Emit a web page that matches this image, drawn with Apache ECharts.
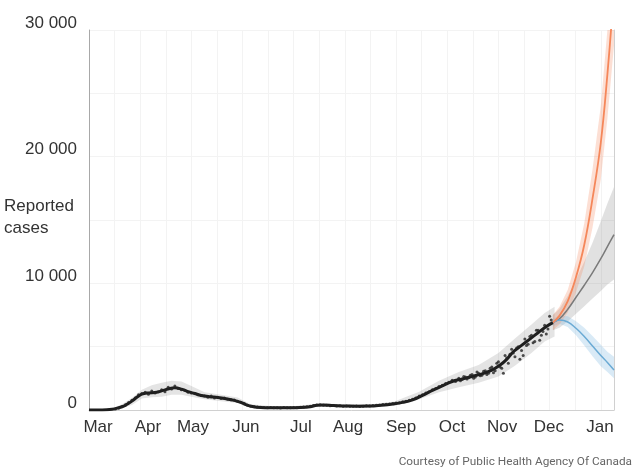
<!DOCTYPE html>
<html>
<head>
<meta charset="utf-8">
<script src="https://cdn.jsdelivr.net/npm/echarts@6/dist/echarts.min.js"></script>
<style>
html, body { margin: 0; padding: 0; background: #fff; }
#chart { width: 640px; height: 473px; }
</style>
</head>
<body>
<div id="chart"></div>
<script>
'use strict';

// x values are days since 1 March 2020
const monthLabels = ['Mar', 'Apr', 'May', 'Jun', 'Jul', 'Aug', 'Sep', 'Oct', 'Nov', 'Dec', 'Jan'];
const monthLabelDays = [5.5, 35.7, 63, 95, 128.4, 156.9, 189, 219.9, 250.2, 278.6, 309.5];

const yTickValues = [0, 10000, 20000, 30000];
const yTickLabels = ['0', '10 000', '20 000', '30 000'];

// fitted curve through reported cases
const fitDays = [0, 8, 14, 18, 21, 23, 26, 29, 32, 36, 41, 45, 49, 52, 56, 60, 64, 68, 73, 78, 83, 88, 92, 95, 99, 104, 112, 120, 128, 134, 138, 142, 148, 155, 162, 170, 177, 184, 190, 196, 202, 208, 214, 220, 226, 232, 238, 244, 249, 253, 257, 262, 267, 272, 277, 281];
const fitCases = [0, 0, 60, 180, 300, 450, 700, 1000, 1250, 1350, 1400, 1550, 1700, 1750, 1650, 1450, 1300, 1150, 1050, 990, 890, 760, 600, 430, 280, 200, 180, 170, 190, 260, 380, 400, 350, 320, 300, 310, 380, 480, 600, 800, 1150, 1550, 1900, 2250, 2450, 2650, 2850, 3150, 3550, 4000, 4600, 5100, 5600, 6100, 6600, 6900];

// uncertainty band around the fit
const bandDays = [0, 14, 20, 26, 32, 38, 44, 50, 56, 62, 70, 80, 90, 98, 110, 125, 140, 155, 170, 185, 200, 212, 224, 236, 248, 258, 268, 276, 282];
const bandLow = [0, 0, 150, 400, 900, 1000, 1050, 1200, 1200, 1050, 850, 700, 550, 150, 80, 80, 280, 220, 200, 330, 850, 1400, 1800, 2150, 2650, 3500, 4500, 5400, 5800];
const bandHigh = [0, 120, 450, 950, 1600, 1950, 2150, 2300, 2250, 1900, 1400, 1200, 980, 450, 320, 320, 520, 460, 440, 680, 1450, 2300, 3000, 3550, 4500, 5650, 6750, 7650, 8150];

// daily reported cases [day, cases]
const dailyCases = [
    [16, 80], [18, 150], [20, 260], [22, 420], [24, 600], [26, 760], [28, 950], [30, 1200], [32, 1300], [34, 1400],
    [36, 1250], [38, 1500], [40, 1350], [42, 1450], [44, 1600], [46, 1450], [48, 1800], [50, 1650], [52, 1900], [54, 1700],
    [56, 1600], [58, 1550], [60, 1400], [62, 1350], [64, 1300], [66, 1200], [68, 1150], [70, 1100], [72, 1000], [74, 1100],
    [76, 950], [78, 1000], [80, 900], [82, 950], [84, 850], [86, 800], [88, 780], [90, 700], [92, 620], [94, 500],
    [96, 380], [98, 300], [100, 260], [102, 230], [104, 220], [106, 200], [108, 180], [110, 190], [112, 170], [114, 180],
    [116, 160], [118, 190], [120, 170], [122, 180], [124, 200], [126, 180], [128, 210], [130, 230], [132, 250], [134, 300],
    [136, 350], [138, 400], [140, 420], [142, 380], [144, 370], [146, 340], [148, 350], [150, 320], [152, 330], [154, 300],
    [156, 320], [158, 290], [160, 300], [162, 310], [164, 280], [166, 300], [168, 330], [170, 310], [172, 350], [174, 380],
    [176, 400], [178, 430], [180, 450], [182, 470], [184, 520], [186, 550], [188, 580], [190, 650], [192, 700], [194, 760],
    [196, 850], [198, 950], [200, 1100], [202, 1200], [204, 1350], [206, 1450], [208, 1600], [210, 1700], [212, 1850], [214, 1950],
    [216, 2100], [218, 2200], [220, 2350], [222, 2250], [224, 2500], [225, 2300], [226, 2400], [227, 2650], [228, 2600], [229, 2450],
    [230, 2550], [231, 2750], [232, 2800], [233, 2500], [234, 2600], [235, 3000], [236, 2900], [237, 2700], [238, 2750], [239, 3050],
    [240, 3100], [241, 2800], [242, 2900], [243, 3300], [244, 3400], [245, 2950], [246, 3100], [247, 3700], [248, 3800], [249, 3400],
    [250, 3300], [251, 2900], [252, 4300], [253, 4100], [254, 3700], [255, 4400], [256, 4800], [257, 4500], [258, 4200], [259, 4900],
    [260, 5000], [261, 4000], [262, 4700], [263, 4300], [264, 5600], [265, 5100], [266, 5200], [267, 5800], [268, 5900], [269, 5300],
    [270, 5400], [271, 6300], [272, 6300], [273, 5500], [274, 5900], [275, 6200], [276, 6700], [277, 6000], [278, 6400], [279, 7400],
    [280, 7100]
];

// projections
const projDays = [281, 285, 290, 295, 300, 305, 310, 314, 318];
const highCases = [6900, 7450, 8600, 10500, 13050, 16700, 21100, 26500, 33000];
const highLow = [6300, 6750, 7700, 9300, 11350, 14400, 18200, 23000, 28800];
const highHigh = [7500, 8150, 9500, 11700, 14750, 19000, 24000, 30000, 37200];
const midCases = [6900, 7200, 7950, 8900, 9850, 10850, 11950, 12900, 13850];
const midLow = [6300, 6500, 7000, 7600, 8200, 8800, 9400, 9900, 10300];
const midHigh = [7500, 8000, 9000, 10300, 11700, 13200, 14900, 16300, 17600];
const lowCases = [6900, 7100, 6950, 6450, 5800, 5050, 4300, 3750, 3150];
const lowLow = [6600, 6800, 6550, 5900, 5100, 4250, 3450, 3000, 2500];
const lowHigh = [7200, 7450, 7400, 7000, 6500, 5850, 5150, 4600, 4200];

const pairs = (xs, ys) => xs.map((x, i) => [x, ys[i]]);

// shaded band drawn as one polygon through the axis scales
function bandSeries(days, lo, hi, color, z) {
    return {
        type: 'custom',
        silent: true,
        clip: true,
        z: z,
        data: [[days[0], lo[0]]],
        renderItem: function (params, api) {
            const pts = [];
            for (let i = 0; i < days.length; i++) pts.push(api.coord([days[i], hi[i]]));
            for (let i = days.length - 1; i >= 0; i--) pts.push(api.coord([days[i], lo[i]]));
            return {
                type: 'polygon',
                shape: { points: pts },
                style: { fill: color }
            };
        }
    };
}

function lineSeries(data, color, width, z) {
    return {
        type: 'line',
        data: data,
        smooth: 0.4,
        showSymbol: false,
        silent: true,
        clip: true,
        z: z,
        lineStyle: { color: color, width: width }
    };
}

const myChart = echarts.init(document.getElementById('chart'));

const option = {
    animation: false,
    backgroundColor: '#ffffff',
    grid: { left: 89, right: 26, top: 30, bottom: 63 },
    xAxis: {
        type: 'value',
        min: 0,
        max: 318,
        interval: 15.5,
        axisLine: { show: true, lineStyle: { color: '#d0d0d0', width: 1 } },
        axisTick: { show: false },
        splitLine: { show: true, lineStyle: { color: '#f3f3f3', width: 1 } },
        axisLabel: {
            customValues: monthLabelDays,
            formatter: v => monthLabels[monthLabelDays.indexOf(v)] || '',
            margin: 9,
            fontSize: 17,
            color: '#333',
            fontFamily: 'Liberation Sans'
        }
    },
    yAxis: [
        {
            type: 'value',
            min: 0,
            max: 30000,
            interval: 5000,
            axisLine: { show: true, lineStyle: { color: '#a8a8a8', width: 1 } },
            axisTick: { show: false },
            splitLine: { show: true, lineStyle: { color: '#f3f3f3', width: 1 } },
            axisLabel: {
                customValues: yTickValues,
                formatter: v => yTickLabels[yTickValues.indexOf(v)] || '',
                margin: 12,
                fontSize: 17,
                color: '#333',
                fontFamily: 'Liberation Sans',
                verticalAlign: 'bottom',
                lineHeight: 14
            }
        },
        {
            type: 'value',
            position: 'right',
            min: 0,
            max: 30000,
            axisLine: { show: true, lineStyle: { color: '#d0d0d0', width: 1 } },
            axisTick: { show: false },
            axisLabel: { show: false },
            splitLine: { show: false }
        }
    ],
    graphic: [
        {
            type: 'text',
            x: 4,
            y: 217,
            style: {
                text: 'Reported\ncases',
                align: 'left',
                verticalAlign: 'middle',
                fontSize: 17,
                lineHeight: 22,
                fontFamily: 'Liberation Sans',
                fill: '#333'
            }
        },
        {
            type: 'text',
            right: 8,
            y: 456,
            style: {
                text: 'Courtesy of Public Health Agency Of Canada',
                fontSize: 11.8,
                fontFamily: 'Roboto',
                fill: '#666'
            }
        }
    ],
    series: [
        bandSeries(bandDays, bandLow, bandHigh, 'rgba(120,120,120,0.2)', 1),
        bandSeries(projDays, midLow, midHigh, 'rgba(120,120,120,0.22)', 1),
        bandSeries(projDays, lowLow, lowHigh, 'rgba(130,185,225,0.3)', 1),
        bandSeries(projDays, highLow, highHigh, 'rgba(245,140,100,0.28)', 1),
        lineSeries(pairs(projDays, midCases), '#7a7a7a', 1.5, 3),
        lineSeries(pairs(projDays, lowCases), '#6aaad4', 1.5, 3),
        lineSeries(pairs(projDays, highCases), '#f5875a', 1.8, 3),
        lineSeries(pairs(fitDays, fitCases), '#1e1e1e', 3, 4),
        {
            type: 'scatter',
            data: dailyCases,
            symbolSize: 3,
            silent: true,
            z: 5,
            itemStyle: { color: '#222' }
        }
    ]
};

myChart.setOption(option);
</script>
</body>
</html>
